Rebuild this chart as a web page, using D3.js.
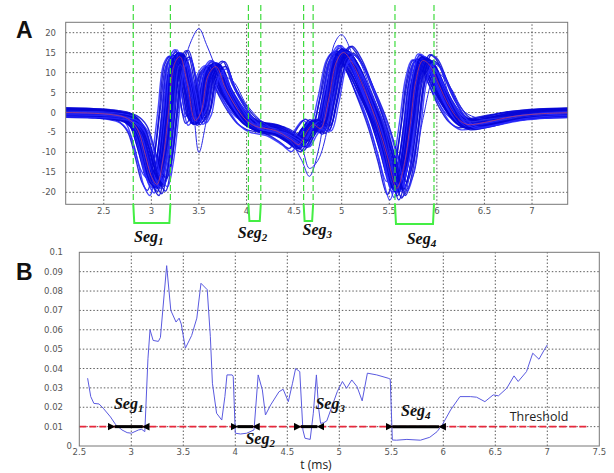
<!DOCTYPE html>
<html>
<head>
<meta charset="utf-8">
<script src="https://cdn.jsdelivr.net/npm/d3@7"></script>
<style>
  body { margin: 0; background: #fff; }
  text { font-family: "DejaVu Sans", sans-serif; }
</style>
</head>
<body>
<script>
const width = 614;
const height = 473;

// ---- Panel A: aligned waveforms (t in ms) ----
const meanT = [1.95, 2.10, 2.40, 2.60, 2.75, 2.85, 2.93, 3.00, 3.06, 3.12, 3.18, 3.24, 3.30, 3.38, 3.46, 3.52, 3.60, 3.68, 3.78, 3.90,
  4.00, 4.10, 4.30, 4.45, 4.55, 4.63, 4.70, 4.78, 4.86, 4.95, 5.02, 5.12, 5.25, 5.38, 5.48, 5.58, 5.65, 5.72, 5.78, 5.85,
  5.92, 6.02, 6.12, 6.22, 6.32, 6.50, 6.80, 7.10, 7.50];
const meanV = [0, 0, -0.2, -0.6, -1.5, -4, -10, -16, -18, -12, 0, 12, 14, 7, -2, 0, 9.5, 11.5, 6, 1,
  -2, -3.5, -4.5, -6.5, -8, -5, -3, -4, 3, 13, 15, 12, 5, -3, -11, -19, -14, -3, 8, 13,
  12, 7, 2, -1.5, -3, -2.5, -1, -0.3, 0];

// jitter of each recorded trace: latency shift (ms), gain, baseline offset
const traceShift = [-0.11, -0.1, -0.085, -0.075, -0.065, -0.055, -0.05, -0.04, -0.035, -0.03, -0.02, -0.015, -0.005, 0,
  0.005, 0.015, 0.02, 0.03, 0.035, 0.04, 0.05, 0.055, 0.065, 0.07, 0.08, 0.09, 0.1, 0.11];
const traceGain = [0.95, 1.05, 0.9, 1.1, 1.0, 0.85, 1.08, 0.95, 1.0, 1.12, 0.9, 1.03, 1.0, 0.92,
  1.06, 0.97, 1.1, 0.88, 1.02, 0.95, 1.08, 0.9, 1.0, 1.05, 0.93, 1.1, 0.95, 1.0];
const traceOffset = [0.8, -0.6, 1.0, -1.0, 0.3, -0.2, 0.6, -0.8, 1.2, 0, -1.2, 0.5, -0.4, 0.9,
  -0.7, 0.2, -1.0, 0.7, -0.3, 1.1, -0.9, 0.4, -0.5, 0.8, -1.1, 0.1, 0.6, -0.6];

// two traces that stand apart from the bundle
const outlierT = [1.95, 2.70, 2.85, 2.95, 3.02, 3.10, 3.20, 3.30, 3.42, 3.50, 3.58, 3.70, 3.85, 4.00, 4.20, 4.45, 4.58, 4.66,
  4.75, 4.85, 4.92, 5.00, 5.15, 5.30, 5.45, 5.52, 5.58, 5.65, 5.75, 5.85, 6.00, 6.15, 6.30, 6.60, 7.00, 7.50];
const outlierV1 = [0, -1, -5, -14, -18, -16, -5, 8, 18, 21, 17, 10, 3, -2, -4, -7, -12, -16,
  -10, 5, 17, 19.5, 12, 2, -10, -17, -20, -21, -8, 8, 12, 3, -2, -1.5, -0.5, 0];
const outlierV2 = [0, -1, -4, -12, -17, -19, -8, 12, 4, -10, -2, 9, 8, 2, -3, -6, -9, -14,
  -12, -4, 8, 15, 14, 6, -4, -12, -18, -20, -16, -2, 10, 6, 0, -2, -0.5, 0];

const segLabels = ["1", "2", "3", "4"];
const segStartA = [2.81, 4.02, 4.60, 5.56];
const segEndA = [3.20, 4.15, 4.70, 5.97];

const xTicksA = [2.5, 3, 3.5, 4, 4.5, 5, 5.5, 6, 6.5, 7];
const yTicksA = [-20, -15, -10, -5, 0, 5, 10, 15, 20];

// ---- Panel B: error vs time ----
const errT = [2.58, 2.61, 2.64, 2.69, 2.73, 2.80, 2.85, 2.91, 2.96, 3.00, 3.07, 3.10, 3.13, 3.16, 3.18, 3.21, 3.26, 3.28,
  3.34, 3.38, 3.43, 3.46, 3.48, 3.52, 3.58, 3.63, 3.67, 3.73, 3.76, 3.78, 3.82, 3.87, 3.90, 3.92, 3.97, 3.98,
  4.00, 4.05, 4.11, 4.18, 4.22, 4.26, 4.29, 4.34, 4.42, 4.46, 4.51, 4.55, 4.58, 4.62, 4.65, 4.67, 4.72, 4.75,
  4.78, 4.80, 4.82, 4.85, 4.88, 4.94, 4.98, 5.03, 5.07, 5.12, 5.17, 5.22, 5.27, 5.36, 5.47, 5.49, 5.51, 5.55,
  5.65, 5.78, 5.87, 5.94, 5.99, 6.07, 6.16, 6.26, 6.32, 6.40, 6.48, 6.53, 6.61, 6.68, 6.72, 6.80, 6.86, 6.92,
  6.98, 7.00];
const errV = [0.035, 0.0255, 0.022, 0.0217, 0.0195, 0.015, 0.011, 0.0083, 0.0069, 0.0066, 0.0083, 0.0086, 0.0074, 0.045, 0.060, 0.0545, 0.054, 0.056,
  0.0931, 0.070, 0.064, 0.066, 0.063, 0.0505, 0.057, 0.066, 0.084, 0.0807, 0.0566, 0.0324, 0.0169, 0.0134, 0.0255, 0.0367, 0.0367, 0.0359,
  0.0066, 0.0062, 0.0066, 0.0083, 0.0367, 0.029, 0.016, 0.0212, 0.028, 0.0293, 0.0229, 0.0324, 0.040, 0.0384, 0.0083, 0.004, 0.0034, 0.0169,
  0.0367, 0.020, 0.0117, 0.012, 0.013, 0.022, 0.028, 0.0333, 0.0298, 0.0341, 0.0307, 0.0233, 0.0376, 0.0367, 0.035, 0.0345, 0.0031, 0.003,
  0.0034, 0.003, 0.0045, 0.0074, 0.0109, 0.0186, 0.0255, 0.0255, 0.0252, 0.0229, 0.0264, 0.0259, 0.0298, 0.0362, 0.0333, 0.0384, 0.0479, 0.0448,
  0.0505, 0.0522];
const threshold = 0.01;
const thresholdEnd = 7.4;
const segStartB = [2.83, 4.01, 4.62, 5.50];
const segEndB = [3.12, 4.18, 4.80, 5.97];

const xTicksB = [2.5, 3, 3.5, 4, 4.5, 5, 5.5, 6, 6.5, 7, 7.5];
const yTicksB = [0, 0.01, 0.02, 0.03, 0.04, 0.05, 0.06, 0.07, 0.08, 0.09, 0.1];

// ---------------------------------------------------
const svg = d3.select("body").append("svg")
  .attr("width", width)
  .attr("height", height);

const defs = svg.append("defs");
defs.append("clipPath").attr("id", "clipA")
  .append("rect").attr("x", 66).attr("y", 22).attr("width", 502).attr("height", 182);
defs.append("marker").attr("id", "arrowL")
  .attr("viewBox", "0 0 10 10").attr("refX", 1).attr("refY", 5)
  .attr("markerWidth", 2.5).attr("markerHeight", 2.6).attr("orient", "auto-start-reverse")
  .attr("markerUnits", "strokeWidth")
  .append("path").attr("d", "M0,5 L10,0 L10,10 Z").attr("fill", "#000");

// Panel A scales
const xA = d3.scaleLinear().domain([2.1, 7.375]).range([65.7, 567.7]);
const yA = d3.scaleLinear().domain([-23, 22.6]).range([204.3, 22.3]);

const gA = svg.append("g");

// grid
gA.selectAll(".gx").data(xTicksA).enter().append("line")
  .attr("x1", d => xA(d)).attr("x2", d => xA(d))
  .attr("y1", yA.range()[0]).attr("y2", yA.range()[1])
  .attr("stroke", "#333").attr("stroke-width", 0.8).attr("stroke-dasharray", "1.5,2");
gA.selectAll(".gy").data(yTicksA).enter().append("line")
  .attr("x1", xA.range()[0]).attr("x2", xA.range()[1])
  .attr("y1", d => yA(d)).attr("y2", d => yA(d))
  .attr("stroke", "#333").attr("stroke-width", 0.8).attr("stroke-dasharray", "1.5,2");

const lineA = d3.line().x(d => xA(d[0])).y(d => yA(d[1])).curve(d3.curveCatmullRom.alpha(0.5));
const traces = gA.append("g").attr("clip-path", "url(#clipA)");

const meanPts = meanT.map((t, k) => [t, meanV[k]]);
// noisy thick band
traces.append("path").attr("d", lineA(meanPts))
  .attr("fill", "none").attr("stroke", "#1010ee").attr("stroke-width", 9).attr("stroke-linejoin", "round");

traceShift.forEach((s, i) => {
  const pts = meanT.map((t, k) => [t + s, meanV[k] * traceGain[i] + traceOffset[i]]);
  traces.append("path").attr("d", lineA(pts))
    .attr("fill", "none").attr("stroke", i % 3 === 0 ? "#2a2aff" : "#0606d6")
    .attr("stroke-width", 1.4).attr("stroke-opacity", 0.85);
});
[outlierV1, outlierV2].forEach(v => {
  traces.append("path").attr("d", lineA(outlierT.map((t, k) => [t, v[k]])))
    .attr("fill", "none").attr("stroke", "#2a2ae6").attr("stroke-width", 1);
});
traces.append("path").attr("d", lineA(meanPts))
  .attr("fill", "none").attr("stroke", "#c8406a").attr("stroke-width", 1).attr("stroke-opacity", 0.7);

// box
gA.append("rect")
  .attr("x", xA.range()[0]).attr("y", yA.range()[1])
  .attr("width", xA.range()[1] - xA.range()[0]).attr("height", yA.range()[0] - yA.range()[1])
  .attr("fill", "none").attr("stroke", "#777").attr("stroke-width", 1);

// tick labels
gA.selectAll(".tx").data(xTicksA).enter().append("text")
  .attr("x", d => xA(d)).attr("y", 213.5)
  .attr("text-anchor", "middle").attr("font-size", 8.5).attr("fill", "#555")
  .text(d => d);
gA.selectAll(".ty").data(yTicksA).enter().append("text")
  .attr("x", 56).attr("y", d => yA(d) + 3)
  .attr("text-anchor", "end").attr("font-size", 8.5).attr("fill", "#555")
  .text(d => d);

// segment windows (green)
const segLabelA = [{ dx: -3, y: 242 }, { dx: -2, y: 238 }, { dx: 9, y: 235 }, { dx: 7, y: 244 }];
const bracketBottom = [223, 221, 221, 224];
segStartA.forEach((s, i) => {
  const x0 = xA(s), x1 = xA(segEndA[i]);
  [x0, x1].forEach(x => {
    svg.append("line").attr("x1", x).attr("x2", x).attr("y1", 5).attr("y2", 204)
      .attr("stroke", "#3ddc3d").attr("stroke-width", 1.2).attr("stroke-dasharray", "6,3");
  });
  svg.append("path")
    .attr("d", `M${x0},204 L${x0 + 1},${bracketBottom[i]} L${x1 - 1},${bracketBottom[i]} L${x1},204`)
    .attr("fill", "none").attr("stroke", "#44ee44").attr("stroke-width", 2);
  const t = svg.append("text")
    .attr("x", (x0 + x1) / 2 + segLabelA[i].dx).attr("y", segLabelA[i].y)
    .attr("text-anchor", "middle")
    .style("font-family", "'Liberation Serif', serif").style("font-style", "italic").style("font-weight", "bold")
    .attr("font-size", 16).attr("fill", "#111");
  t.append("tspan").text("Seg");
  t.append("tspan").attr("dy", 3).attr("font-size", 11).text(segLabels[i]);
});

// panel letters
svg.append("text").attr("x", 16).attr("y", 38).text("A")
  .style("font-family", "'Liberation Sans', Arial, sans-serif").attr("font-weight", "bold").attr("font-size", 23).attr("fill", "#111");
svg.append("text").attr("x", 16).attr("y", 280).text("B")
  .style("font-family", "'Liberation Sans', Arial, sans-serif").attr("font-weight", "bold").attr("font-size", 23).attr("fill", "#111");

// ---- Panel B ----
const xB = d3.scaleLinear().domain([2.5, 7.5]).range([79.3, 599.3]);
const yB = d3.scaleLinear().domain([0, 0.1]).range([446, 252.3]);
const gB = svg.append("g");

gB.selectAll(".gx").data(xTicksB.slice(1, -1)).enter().append("line")
  .attr("x1", d => xB(d)).attr("x2", d => xB(d))
  .attr("y1", yB.range()[0]).attr("y2", yB.range()[1])
  .attr("stroke", "#333").attr("stroke-width", 0.8).attr("stroke-dasharray", "1.5,2");
gB.selectAll(".gy").data(yTicksB.slice(1, -1)).enter().append("line")
  .attr("x1", xB.range()[0]).attr("x2", xB.range()[1])
  .attr("y1", d => yB(d)).attr("y2", d => yB(d))
  .attr("stroke", "#333").attr("stroke-width", 0.8).attr("stroke-dasharray", "1.5,2");

gB.append("line")
  .attr("x1", xB(2.5)).attr("x2", xB(thresholdEnd))
  .attr("y1", yB(threshold)).attr("y2", yB(threshold))
  .attr("stroke", "#e8283c").attr("stroke-width", 1.6).attr("stroke-dasharray", "7,3");

const lineB = d3.line().x(d => xB(d[0])).y(d => yB(d[1]));
gB.append("path").attr("d", lineB(errT.map((t, k) => [t, errV[k]])))
  .attr("fill", "none").attr("stroke", "#5a5ae0").attr("stroke-width", 1);

gB.append("rect")
  .attr("x", xB.range()[0]).attr("y", yB.range()[1])
  .attr("width", xB.range()[1] - xB.range()[0]).attr("height", yB.range()[0] - yB.range()[1])
  .attr("fill", "none").attr("stroke", "#777").attr("stroke-width", 1);

gB.selectAll(".tx").data(xTicksB).enter().append("text")
  .attr("x", d => xB(d)).attr("y", 454.5)
  .attr("text-anchor", "middle").attr("font-size", 8.5).attr("fill", "#555")
  .text(d => d);
gB.selectAll(".ty").data(yTicksB).enter().append("text")
  .attr("x", d => d === 0 ? 72 : 63).attr("y", d => yB(d) + 3)
  .attr("text-anchor", "end").attr("font-size", 8.5).attr("fill", "#555")
  .text(d => d);

gB.append("text").attr("x", 316).attr("y", 469).attr("text-anchor", "middle")
  .style("font-family", "'Open Sans', 'Liberation Sans', sans-serif").attr("font-size", 12).attr("fill", "#222")
  .text("t (ms)");
gB.append("text").attr("x", 539).attr("y", 421).attr("text-anchor", "middle")
  .style("font-family", "'Open Sans', 'Liberation Sans', sans-serif").attr("font-size", 12.5).attr("fill", "#222")
  .text("Threshold");

// segment arrows
const segLabelB = [{ dx: 0, y: 409 }, { dx: 15, y: 444 }, { dx: 21, y: 409 }, { dx: 0, y: 416 }];
segStartB.forEach((s, i) => {
  const x0 = xB(s), x1 = xB(segEndB[i]);
  gB.append("line")
    .attr("x1", x0 + 1).attr("x2", x1 - 1).attr("y1", yB(threshold)).attr("y2", yB(threshold))
    .attr("stroke", "#000").attr("stroke-width", 3)
    .attr("marker-start", "url(#arrowL)").attr("marker-end", "url(#arrowL)");
  const t = gB.append("text")
    .attr("x", (x0 + x1) / 2 + segLabelB[i].dx).attr("y", segLabelB[i].y)
    .attr("text-anchor", "middle")
    .style("font-family", "'Liberation Serif', serif").style("font-style", "italic").style("font-weight", "bold")
    .attr("font-size", 16).attr("fill", "#111");
  t.append("tspan").text("Seg");
  t.append("tspan").attr("dy", 3).attr("font-size", 11).text(segLabels[i]);
});
</script>
</body>
</html>
